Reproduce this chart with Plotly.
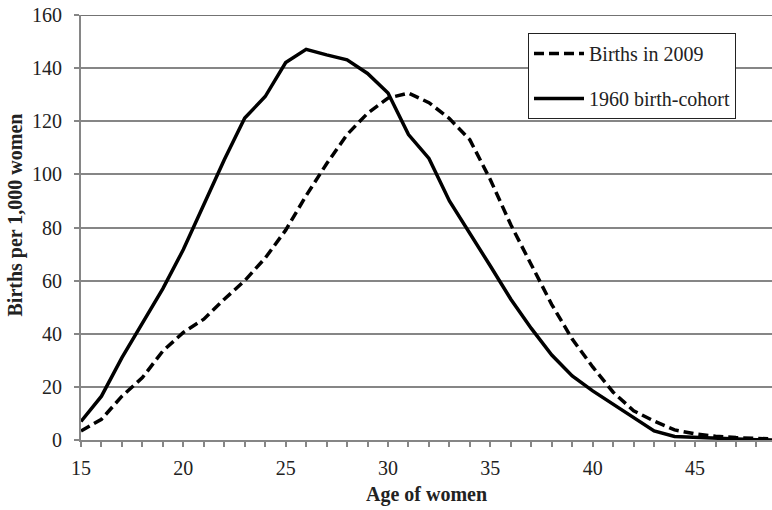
import plotly.graph_objects as go

ages = list(range(15, 50))
births_2009 = [3.4, 7.8, 16.5, 23.5, 33.5, 40.5, 45.5, 53, 60, 68.5, 79, 92, 104, 115, 123,
               128.7, 130.6, 127, 121, 113, 98, 81, 66, 51, 38, 27.5, 18, 11, 7.1, 3.8,
               2.3, 1.4, 0.9, 0.6, 0.3]
cohort_1960 = [7, 16.5, 31, 44.3, 57, 71.7, 89, 105.5, 121.2, 129.3, 142.1, 147.1, 145, 143.1, 138,
               130.6, 115, 106, 90, 78, 65.5, 53, 42, 32, 24.1, 18.5, 13.5, 8.5, 3.4, 1.3,
               1.0, 0.4, 0.2, 0.1, 0.0]
series_names = ["Births in 2009", "1960 birth-cohort"]
x_title = "Age of women"
y_title = "Births per 1,000 women"

FONT = "Liberation Serif"

fig = go.Figure()
fig.add_trace(go.Scatter(x=ages, y=births_2009, mode="lines",
                         name=series_names[0], legendgroup="a",
                         line=dict(color="black", width=3.5, dash="10px,5px")))
fig.add_trace(go.Scatter(x=ages, y=cohort_1960, mode="lines",
                         name=series_names[1], legendgroup="b",
                         line=dict(color="black", width=3.5)))

fig.update_layout(
    width=772, height=510,
    margin=dict(l=81, r=0, t=15, b=70),
    plot_bgcolor="white", paper_bgcolor="white",
    font=dict(family=FONT, color="#222", size=19),
    showlegend=True,
    legend=dict(x=(528 - 81) / 691, y=(440 - 33) / 425, xanchor="left", yanchor="top",
                bgcolor="white", bordercolor="#222", borderwidth=1,
                font=dict(family=FONT, size=20, color="#222"),
                tracegroupgap=16, traceorder="grouped", itemwidth=50),
    xaxis=dict(range=[15, 48.76], tick0=15, dtick=5, ticks="outside", ticklen=5,
               tickcolor="#868686", tickwidth=1.5, ticklabelstandoff=4,
               minor=dict(dtick=1, tick0=15, ticks="outside", ticklen=5,
                          tickcolor="#868686", tickwidth=1.5),
               showline=True, linecolor="#868686", linewidth=2, showgrid=False,
               zeroline=False, tickfont=dict(size=20, family=FONT, color="#222")),
    yaxis=dict(range=[0, 160], dtick=20, ticks="outside", ticklen=5,
               tickcolor="#868686", tickwidth=1.5, ticklabelstandoff=8,
               ticklabeloverflow="allow",
               showline=True, linecolor="#868686", linewidth=2,
               showgrid=True, gridcolor="#868686", gridwidth=1.5, zeroline=False,
               tickfont=dict(size=20, family=FONT, color="#222")),
    annotations=[
        dict(text="<b>" + x_title + "</b>", xref="paper", yref="paper", x=0.5, y=0,
             yshift=-54, xanchor="center", yanchor="middle", showarrow=False,
             font=dict(size=20, family=FONT, color="#222")),
        dict(text="<b>" + y_title + "</b>", xref="paper", yref="paper", x=0, y=0.5,
             xshift=-66, yshift=12, textangle=-90, xanchor="center", yanchor="middle",
             showarrow=False, font=dict(size=20, family=FONT, color="#222")),
    ],
    shapes=[dict(type="line", xref="paper", yref="y", x0=0, x1=1, y0=160, y1=160,
                 line=dict(color="#444", width=1.5))],
)

fig.write_html("out.html", config={"displayModeBar": False},
               post_script="document.body.style.margin='0';")
